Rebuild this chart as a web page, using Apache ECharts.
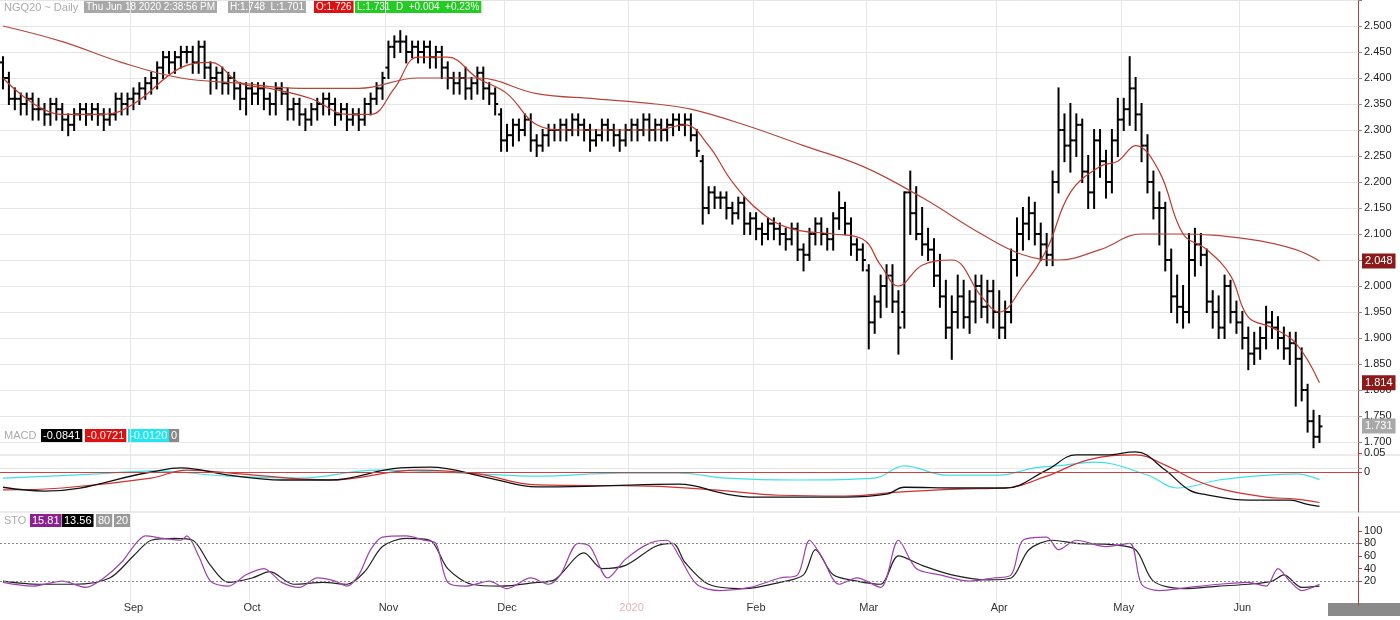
<!DOCTYPE html>
<html><head><meta charset="utf-8">
<script src="https://cdn.jsdelivr.net/npm/echarts@6/dist/echarts.min.js"></script>
<style>html,body{margin:0;padding:0;background:#fff}#c{width:1400px;height:620px}</style>
</head><body><div id="c"></div>
<script>
const holidays=['2019-09-02','2019-11-28','2019-12-25','2020-01-01','2020-01-20','2020-02-17','2020-04-10','2020-05-25'];
const opens=[2.43,2.40,2.36,2.36,2.35,2.36,2.34,2.34,2.33,2.35,2.34,2.32,2.31,2.33,2.34,2.33,2.34,2.33,2.32,2.33,2.36,2.35,2.36,2.37,2.38,2.39,2.40,2.42,2.44,2.43,2.44,2.45,2.45,2.43,2.46,2.42,2.40,2.41,2.39,2.40,2.38,2.36,2.38,2.37,2.38,2.36,2.35,2.38,2.37,2.34,2.35,2.33,2.32,2.34,2.35,2.36,2.35,2.33,2.34,2.32,2.33,2.32,2.35,2.36,2.38,2.42,2.46,2.47,2.47,2.45,2.46,2.45,2.46,2.44,2.45,2.42,2.40,2.39,2.40,2.38,2.39,2.41,2.38,2.37,2.33,2.28,2.29,2.31,2.30,2.32,2.28,2.27,2.29,2.30,2.30,2.31,2.30,2.32,2.31,2.30,2.28,2.29,2.31,2.30,2.29,2.28,2.30,2.31,2.30,2.32,2.30,2.31,2.30,2.31,2.32,2.31,2.32,2.29,2.24,2.15,2.18,2.17,2.17,2.15,2.14,2.16,2.12,2.13,2.11,2.10,2.12,2.11,2.10,2.09,2.11,2.07,2.06,2.10,2.12,2.10,2.09,2.13,2.15,2.12,2.08,2.07,2.03,1.93,1.97,2.00,2.02,1.97,1.95,2.18,2.14,2.10,2.08,2.07,2.02,1.98,1.92,1.95,1.98,1.94,1.97,2.00,1.96,1.99,1.95,1.92,1.95,2.05,2.10,2.12,2.14,2.10,2.08,2.06,2.20,2.30,2.27,2.28,2.31,2.22,2.18,2.28,2.24,2.20,2.28,2.32,2.34,2.38,2.33,2.27,2.20,2.15,2.15,2.05,1.98,1.96,1.95,2.05,2.08,2.06,1.97,1.95,1.92,2.00,1.95,1.93,1.90,1.87,1.88,1.90,1.93,1.92,1.90,1.88,1.89,1.86,1.80,1.74,1.71];
const highs=[2.44,2.41,2.38,2.37,2.37,2.37,2.36,2.35,2.36,2.36,2.35,2.33,2.34,2.35,2.35,2.35,2.35,2.34,2.34,2.37,2.37,2.37,2.38,2.39,2.40,2.41,2.43,2.45,2.45,2.45,2.46,2.46,2.46,2.47,2.47,2.43,2.42,2.42,2.41,2.41,2.39,2.39,2.39,2.39,2.39,2.37,2.39,2.39,2.38,2.36,2.36,2.34,2.35,2.36,2.37,2.37,2.36,2.35,2.35,2.34,2.34,2.36,2.37,2.39,2.41,2.47,2.48,2.49,2.48,2.47,2.47,2.47,2.47,2.46,2.46,2.43,2.41,2.41,2.42,2.40,2.42,2.42,2.39,2.38,2.34,2.31,2.32,2.32,2.33,2.33,2.29,2.30,2.31,2.31,2.32,2.32,2.33,2.33,2.32,2.31,2.30,2.32,2.32,2.31,2.30,2.31,2.32,2.32,2.33,2.33,2.32,2.32,2.32,2.33,2.33,2.33,2.33,2.30,2.25,2.19,2.19,2.18,2.18,2.16,2.17,2.17,2.14,2.14,2.12,2.13,2.13,2.12,2.11,2.12,2.12,2.08,2.11,2.13,2.13,2.11,2.14,2.18,2.16,2.13,2.09,2.08,2.04,1.98,2.02,2.04,2.04,1.99,2.18,2.22,2.19,2.15,2.11,2.09,2.06,2.01,1.98,2.02,2.01,1.99,2.02,2.02,2.01,2.01,1.99,1.97,2.07,2.13,2.15,2.17,2.16,2.12,2.10,2.22,2.38,2.33,2.35,2.33,2.32,2.25,2.30,2.30,2.26,2.30,2.36,2.36,2.44,2.40,2.35,2.29,2.22,2.18,2.16,2.07,2.02,2.00,2.10,2.11,2.10,2.07,1.99,1.98,2.02,2.01,1.97,1.95,1.92,1.91,1.92,1.96,1.95,1.94,1.92,1.91,1.91,1.88,1.81,1.76,1.75];
const lows=[2.38,2.35,2.34,2.33,2.33,2.32,2.32,2.31,2.31,2.32,2.30,2.29,2.30,2.32,2.31,2.32,2.31,2.30,2.31,2.32,2.33,2.33,2.34,2.35,2.36,2.37,2.38,2.40,2.41,2.41,2.42,2.43,2.41,2.41,2.40,2.37,2.38,2.37,2.37,2.36,2.34,2.33,2.35,2.35,2.34,2.33,2.33,2.35,2.32,2.32,2.31,2.30,2.31,2.32,2.33,2.33,2.31,2.32,2.30,2.31,2.30,2.31,2.33,2.35,2.36,2.40,2.44,2.45,2.43,2.44,2.43,2.43,2.42,2.42,2.40,2.38,2.37,2.37,2.36,2.36,2.37,2.36,2.35,2.33,2.26,2.26,2.27,2.28,2.29,2.26,2.25,2.26,2.27,2.28,2.28,2.28,2.29,2.29,2.28,2.26,2.27,2.28,2.28,2.27,2.26,2.27,2.28,2.28,2.29,2.28,2.28,2.28,2.28,2.29,2.30,2.29,2.28,2.25,2.12,2.14,2.15,2.15,2.13,2.12,2.13,2.10,2.10,2.09,2.08,2.09,2.09,2.08,2.07,2.08,2.05,2.03,2.05,2.08,2.08,2.07,2.07,2.11,2.10,2.06,2.05,2.03,1.88,1.91,1.94,1.96,1.95,1.87,1.92,2.10,2.09,2.06,2.05,2.00,1.96,1.90,1.86,1.92,1.92,1.91,1.93,1.94,1.93,1.92,1.90,1.90,1.93,2.02,2.07,2.09,2.08,2.05,2.04,2.04,2.18,2.24,2.22,2.25,2.20,2.15,2.15,2.21,2.17,2.18,2.25,2.30,2.31,2.30,2.24,2.18,2.13,2.08,2.03,1.95,1.93,1.92,1.93,2.02,2.04,1.95,1.92,1.90,1.90,1.93,1.91,1.88,1.84,1.85,1.86,1.88,1.90,1.88,1.86,1.85,1.77,1.78,1.72,1.69,1.70];
const closes=[2.40,2.36,2.36,2.35,2.36,2.34,2.34,2.33,2.35,2.34,2.32,2.31,2.33,2.34,2.33,2.34,2.33,2.32,2.33,2.36,2.35,2.36,2.37,2.38,2.39,2.40,2.42,2.44,2.43,2.44,2.45,2.45,2.43,2.46,2.42,2.40,2.41,2.39,2.40,2.38,2.36,2.38,2.37,2.38,2.36,2.35,2.38,2.37,2.34,2.35,2.33,2.32,2.34,2.35,2.36,2.35,2.33,2.34,2.32,2.33,2.32,2.35,2.36,2.38,2.40,2.46,2.47,2.47,2.45,2.46,2.45,2.46,2.44,2.45,2.42,2.40,2.39,2.40,2.38,2.39,2.41,2.38,2.37,2.35,2.28,2.29,2.31,2.30,2.32,2.28,2.27,2.29,2.30,2.30,2.31,2.30,2.32,2.31,2.30,2.28,2.29,2.31,2.30,2.29,2.28,2.30,2.31,2.30,2.32,2.30,2.31,2.30,2.31,2.32,2.31,2.32,2.29,2.26,2.15,2.18,2.17,2.17,2.15,2.14,2.16,2.12,2.13,2.11,2.10,2.12,2.11,2.10,2.09,2.11,2.07,2.06,2.10,2.12,2.10,2.09,2.13,2.15,2.12,2.08,2.07,2.05,1.93,1.97,2.00,2.02,1.97,1.92,2.18,2.14,2.10,2.08,2.07,2.02,1.98,1.92,1.95,1.98,1.94,1.97,2.00,1.96,1.99,1.95,1.92,1.95,2.05,2.10,2.12,2.14,2.10,2.08,2.06,2.20,2.30,2.27,2.28,2.31,2.22,2.18,2.28,2.24,2.20,2.28,2.32,2.34,2.38,2.33,2.27,2.20,2.15,2.15,2.05,1.98,1.96,1.95,2.05,2.08,2.06,1.97,1.95,1.92,2.00,1.95,1.93,1.90,1.87,1.88,1.90,1.93,1.92,1.90,1.88,1.89,1.86,1.80,1.74,1.71,1.73];
const maShort=[[0,2.40],[10,2.33],[17,2.33],[22,2.35],[30,2.42],[35,2.43],[40,2.39],[45,2.38],[52,2.36],[58,2.33],[62,2.33],[66,2.38],[70,2.44],[75,2.44],[80,2.40],[85,2.37],[90,2.31],[95,2.30],[100,2.30],[110,2.30],[115,2.31],[119,2.27],[123,2.20],[128,2.14],[133,2.11],[140,2.10],[145,2.09],[148,2.04],[151,2.00],[155,2.04],[160,2.05],[165,1.98],[168,1.95],[172,2.00],[176,2.07],[180,2.18],[185,2.23],[188,2.24],[191,2.27],[195,2.22],[199,2.10],[203,2.07],[207,2.02],[210,1.94],[214,1.92],[218,1.89],[222,1.814]];
const maLong=[[0,2.50],[10,2.47],[20,2.43],[30,2.40],[40,2.39],[50,2.38],[60,2.38],[70,2.40],[80,2.40],[90,2.37],[100,2.36],[110,2.35],[116,2.34],[125,2.31],[135,2.27],[145,2.23],[155,2.17],[165,2.10],[172,2.06],[178,2.05],[185,2.07],[192,2.10],[198,2.10],[210,2.09],[218,2.07],[222,2.048]];
const macdLine=[[0,-0.040],[7,-0.050],[25,0.000],[30,0.011],[38,-0.008],[47,-0.021],[55,-0.021],[67,0.011],[72,0.013],[82,-0.016],[90,-0.039],[100,-0.037],[114,-0.032],[122,-0.058],[127,-0.066],[142,-0.066],[149,-0.058],[152,-0.040],[161,-0.042],[169,-0.042],[176,0.005],[181,0.045],[186,0.045],[191,0.053],[196,0.005],[200,-0.047],[203,-0.060],[210,-0.074],[217,-0.074],[220,-0.085],[222,-0.090]];
const macdSignal=[[0,-0.047],[10,-0.042],[25,-0.016],[31,0.005],[40,-0.005],[55,-0.021],[70,0.005],[80,-0.005],[90,-0.034],[109,-0.037],[120,-0.047],[131,-0.061],[142,-0.063],[151,-0.053],[161,-0.045],[169,-0.042],[176,-0.011],[183,0.032],[191,0.045],[196,0.018],[201,-0.021],[206,-0.047],[213,-0.066],[218,-0.071],[222,-0.080]];
const macdDiff=[[0,-0.016],[16,-0.005],[25,0.003],[38,-0.011],[50,-0.016],[63,0.005],[80,-0.005],[90,-0.011],[104,-0.003],[114,-0.003],[122,-0.016],[134,-0.021],[147,-0.016],[152,0.016],[159,-0.008],[168,-0.008],[174,0.011],[179,0.018],[184,0.026],[193,-0.008],[198,-0.042],[205,-0.021],[211,-0.011],[218,-0.005],[222,-0.020]];
const stoK=[[0,18],[5,12],[10,20],[14,10],[17,25],[20,50],[22,75],[24,92],[27,88],[30,85],[31,92],[33,60],[35,20],[38,12],[41,30],[44,40],[47,18],[50,10],[53,25],[56,20],[58,12],[60,30],[62,70],[64,90],[68,92],[71,85],[73,80],[75,18],[78,12],[82,20],[85,8],[89,25],[92,15],[94,30],[97,80],[99,75],[102,25],[105,55],[109,80],[112,85],[114,60],[117,15],[121,5],[126,10],[131,25],[134,30],[136,85],[138,60],[141,15],[144,25],[148,10],[151,85],[154,40],[158,30],[163,20],[167,25],[170,30],[172,85],[176,90],[178,70],[181,85],[186,75],[190,80],[192,15],[195,5],[200,10],[205,15],[210,18],[213,12],[215,40],[217,20],[219,5],[222,15]];
const stoD=[[0,20],[6,15],[12,15],[18,25],[22,60],[25,85],[29,88],[32,85],[35,45],[38,18],[42,25],[45,35],[49,15],[54,18],[58,15],[61,35],[64,75],[68,88],[72,85],[75,40],[79,15],[84,12],[90,18],[93,22],[98,65],[101,40],[105,45],[110,75],[113,80],[115,50],[119,15],[125,8],[131,18],[135,30],[137,70],[140,30],[144,20],[148,15],[151,60],[155,45],[160,30],[166,22],[170,25],[173,70],[177,85],[181,80],[187,78],[191,70],[194,20],[199,8],[205,12],[210,15],[214,20],[216,30],[219,10],[222,12]];
const tagValues=[2.048,1.814,1.731];
const tagTexts=['2.048','1.814','1.731'];

const dates=[];
let d=new Date(Date.UTC(2019,7,1));
const end=new Date(Date.UTC(2020,5,18));
while(d<=end){const w=d.getUTCDay();const s=d.toISOString().slice(0,10);if(w!==0&&w!==6&&!holidays.includes(s))dates.push(s);d=new Date(d.getTime()+86400000);}
const cats=dates.slice();for(let k=0;k<6;k++)cats.push('');
const monthStart=new Set();
for(let k=1;k<dates.length;k++){if(dates[k].slice(5,7)!==dates[k-1].slice(5,7))monthStart.add(k);}
const isMS=(i)=>monthStart.has(i);
const ohlc=closes.map((c,i)=>[i,opens[i],highs[i],lows[i],c]);
function mapMonth(m){return ['','2020','Feb','Mar','Apr','May','Jun','Jul','Aug','Sep','Oct','Nov','Dec'][m];}

const grey='#e6e6e6';
const FF='Liberation Sans';
function xAx(idx,show){return {type:'category',gridIndex:idx,data:cats,boundaryGap:true,
 axisLine:{show:false},axisTick:{show:false},
 axisLabel:{show:show,interval:(i)=>isMS(i),fontSize:11,color:'#333',fontFamily:FF,margin:-3,
  formatter:(v)=>{if(!v)return '';const m=parseInt(v.slice(5,7));return m===1?'{y|2020}':mapMonth(m);}, rich:{y:{color:'#e8b4b4',fontSize:11,fontFamily:FF}}},
 splitLine:{show:true,interval:(i)=>isMS(i),lineStyle:{color:grey,width:1}}};}

const chart=echarts.init(document.getElementById('c'),null,{renderer:'canvas'});
function tag(bg,items){return {silent:true,symbol:'none',precision:3,lineStyle:{color:'transparent',width:0},
 label:{show:true,position:'end',distance:4,color:'#fff',backgroundColor:bg,padding:[2,3],fontSize:11,fontFamily:FF,formatter:(p)=>p.name},
 data:items.map(k=>({yAxis:tagValues[k],name:tagTexts[k]}))};}
function box(x,y,text,bg,fs){return {type:'text',x:x,y:y,style:{text:text,fill:'#fff',backgroundColor:bg,padding:[1,2],fontSize:fs||11,fontFamily:FF}};}
chart.setOption({
 animation:false,
 textStyle:{fontFamily:FF},
 grid:[{left:0,right:42,top:-2,height:470},{left:0,right:42,top:440,height:72},{left:0,right:42,top:517,height:88}],
 xAxis:[xAx(0,false),xAx(1,false),xAx(2,true)],
 yAxis:[
  {type:'value',gridIndex:0,position:'right',min:1.65,max:2.55,interval:0.05,axisLine:{show:true,lineStyle:{color:'#b04040'}},axisTick:{show:true,length:4,lineStyle:{color:'#888'}},
   axisLabel:{fontSize:11,color:'#222',margin:6,formatter:(v)=>(v<1.69||v>2.51)?'':v.toFixed(3)},splitLine:{lineStyle:{color:grey}}},
  {type:'value',gridIndex:1,position:'right',min:-0.105,max:0.084,axisLine:{show:true,lineStyle:{color:'#b04040'}},axisTick:{show:true,length:4,customValues:[0,0.05]},
   axisLabel:{fontSize:11,color:'#222',margin:6,customValues:[0,0.05],formatter:(v)=>v===0?'0':v.toFixed(2)},splitLine:{show:false}},
  {type:'value',gridIndex:2,position:'right',min:-18,max:122,axisLine:{show:true,lineStyle:{color:'#b04040'}},axisTick:{show:true,length:4,customValues:[20,40,60,80,100]},
   axisLabel:{fontSize:11,color:'#222',margin:6,customValues:[20,40,60,80,100]},splitLine:{show:false}}
 ],
 series:[
  {type:'custom',xAxisIndex:0,yAxisIndex:0,data:ohlc,encode:{x:0,y:[1,2,3,4]},
   renderItem:(params,api)=>{const i=api.value(0);const o=api.coord([i,api.value(1)]),h=api.coord([i,api.value(2)]),l=api.coord([i,api.value(3)]),c=api.coord([i,api.value(4)]);
    const st={stroke:'#000',lineWidth:2};
    return {type:'group',children:[
     {type:'line',shape:{x1:h[0],y1:h[1]-1,x2:l[0],y2:l[1]+1},style:st},
     {type:'line',shape:{x1:o[0]-3,y1:o[1],x2:o[0],y2:o[1]},style:st},
     {type:'line',shape:{x1:c[0],y1:c[1],x2:c[0]+3,y2:c[1]},style:st}]};}},
  {type:'line',xAxisIndex:0,yAxisIndex:0,data:maLong,smooth:0.4,symbol:'none',lineStyle:{color:'#b5473a',width:1.2},markLine:tag('#8b1a1a',[0,1])},
  {type:'line',xAxisIndex:0,yAxisIndex:0,data:maShort,smooth:0.4,symbol:'none',lineStyle:{color:'#c0392b',width:1.2},markLine:tag('#a8a8a8',[2])},
  {type:'line',xAxisIndex:1,yAxisIndex:1,data:macdDiff,smooth:0.4,symbol:'none',lineStyle:{color:'#40e0e8',width:1.2},
   markLine:{silent:true,symbol:'none',label:{show:false},lineStyle:{color:'#d04040',width:1,type:'solid'},data:[{yAxis:0}]}},
  {type:'line',xAxisIndex:1,yAxisIndex:1,data:macdSignal,smooth:0.4,symbol:'none',lineStyle:{color:'#d03030',width:1.2}},
  {type:'line',xAxisIndex:1,yAxisIndex:1,data:macdLine,smooth:0.4,symbol:'none',lineStyle:{color:'#111',width:1.3}},
  {type:'line',xAxisIndex:2,yAxisIndex:2,data:stoD,smooth:0.3,symbol:'none',lineStyle:{color:'#222',width:1.2},
   markLine:{silent:true,symbol:'none',label:{show:false},lineStyle:{color:'#888',width:1,type:[2,2]},data:[{yAxis:80},{yAxis:20}]}},
  {type:'line',xAxisIndex:2,yAxisIndex:2,data:stoK,smooth:0.3,symbol:'none',lineStyle:{color:'#a040b0',width:1.2}}
 ],
 graphic:[
  {type:'line',shape:{x1:0,y1:455,x2:1400,y2:455},style:{stroke:'#d8d8d8',lineWidth:1}},
  {type:'line',shape:{x1:0,y1:512,x2:1400,y2:512},style:{stroke:'#d8d8d8',lineWidth:1}},
  {type:'rect',shape:{x:1328,y:603,width:72,height:13},style:{fill:'#8a8a8a'}},
  {type:'text',x:4,y:2,style:{text:'NGQ20 ~ Daily',fill:'#aaa',fontSize:11,fontFamily:FF}},
  box(84,1,'Thu Jun 18 2020 2:38:56 PM','#a8a8a8',10),
  box(228,1,'H:1.748  L:1.701','#a8a8a8',10),
  box(314,1,'O:1.726','#e01010',10),
  box(355,1,'L:1.731  D  +0.004  +0.23%','#22cc22',10),
  {type:'text',x:4,y:430,style:{text:'MACD',fill:'#aaa',fontSize:11,fontFamily:FF}},
  box(41,429,'-0.0841','#000'),
  box(85,429,'-0.0721','#e01010'),
  box(128,429,'-0.0120','#20e8f0'),
  box(169,429,'0','#888'),
  {type:'text',x:4,y:515,style:{text:'STO',fill:'#aaa',fontSize:11,fontFamily:FF}},
  box(30,514,'15.81','#8b2090'),
  box(62,514,'13.56','#000'),
  box(96,514,'80','#999'),
  box(114,514,'20','#999')
 ]
});
</script></body></html>
